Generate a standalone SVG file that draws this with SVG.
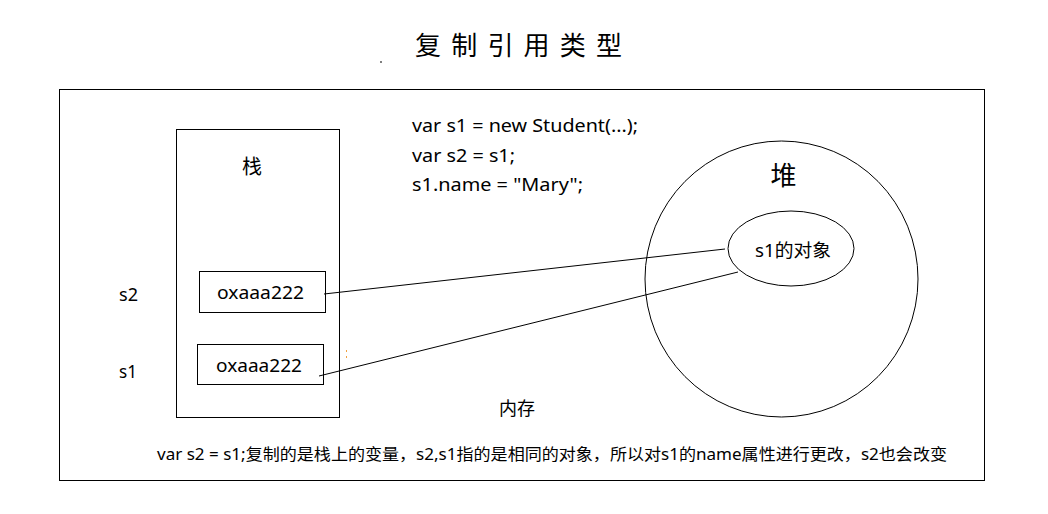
<svg xmlns="http://www.w3.org/2000/svg" width="1048" height="514" viewBox="0 0 1048 514">
<style>
  .t { font-family: "Noto Sans", "Noto Sans CJK SC", sans-serif; fill: #000; }
  .c { font-family: "Noto Sans CJK SC", sans-serif; fill: #000; }
  .box { fill: #fff; stroke: #000; stroke-width: 1; }
  .ln { stroke: #000; stroke-width: 1; fill: none; }
</style>
<rect width="1048" height="514" fill="#fff"/>
<text class="c" x="415" y="55" font-size="26" textLength="207" lengthAdjust="spacing">复制引用类型</text>
<rect x="380.5" y="61" width="1" height="2" fill="#000"/>
<g id="memory">
  <rect class="box" x="59.5" y="89.5" width="925" height="391" stroke-width="1.3"/>
  <text class="c" x="499" y="415" font-size="18">内存</text>
</g>
<g id="code">
  <text class="t" x="412" y="132" font-size="18" textLength="226" lengthAdjust="spacingAndGlyphs">var s1 = new Student(...);</text>
  <text class="t" x="412" y="162" font-size="18" textLength="103" lengthAdjust="spacingAndGlyphs">var s2 = s1;</text>
  <text class="t" x="412" y="191" font-size="18" textLength="171" lengthAdjust="spacingAndGlyphs">s1.name = "Mary";</text>
</g>
<g id="stack">
  <rect class="box" x="176.5" y="129.5" width="163" height="288"/>
  <text class="c" x="252" y="174" font-size="20" text-anchor="middle">栈</text>
</g>
<g id="s2-label"><text class="t" x="119" y="301" font-size="18" textLength="19" lengthAdjust="spacingAndGlyphs">s2</text></g>
<g id="s1-label"><text class="t" x="119" y="378" font-size="18" textLength="18" lengthAdjust="spacingAndGlyphs">s1</text></g>
<g id="s2-box">
  <rect class="box" x="199.5" y="271.5" width="126" height="41"/>
  <text class="t" x="217" y="299" font-size="18" textLength="87" lengthAdjust="spacingAndGlyphs">oxaaa222</text>
</g>
<g id="s1-box">
  <rect class="box" x="197.5" y="344.5" width="126" height="40"/>
  <text class="t" x="216" y="372" font-size="18" textLength="86" lengthAdjust="spacingAndGlyphs">oxaaa222</text>
</g>
<rect x="346" y="350" width="1" height="2" fill="#f0a040"/>
<rect x="346" y="356" width="1" height="2" fill="#f0a040"/>
<g id="heap">
  <ellipse class="box" cx="781.5" cy="279" rx="136.5" ry="138"/>
  <text class="c" x="783.5" y="185" font-size="26" text-anchor="middle">堆</text>
</g>
<g id="s1-object">
  <ellipse class="box" cx="791" cy="248.5" rx="63" ry="37.5"/>
  <text class="t" x="755" y="257" font-size="18" textLength="76" lengthAdjust="spacingAndGlyphs">s1的对象</text>
</g>
<g id="connectors">
  <line class="ln" x1="324" y1="294" x2="725" y2="249"/>
  <line class="ln" x1="319" y1="376" x2="738" y2="272"/>
</g>
<g id="note">
  <text class="t" x="157" y="460" font-size="16" textLength="790" lengthAdjust="spacingAndGlyphs">var s2 = s1;复制的是栈上的变量，s2,s1指的是相同的对象，所以对s1的name属性进行更改，s2也会改变</text>
</g>
</svg>
